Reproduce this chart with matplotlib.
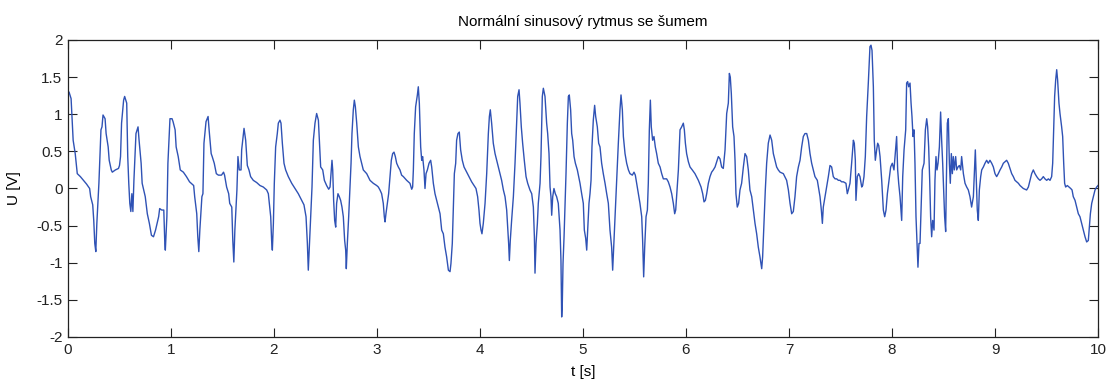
import numpy as np
import matplotlib
matplotlib.use("Agg")
import matplotlib.pyplot as plt

# ===================== DATA (t [s], U [V]) =====================
beats_0_2 = [
    (0.00, 1.28), (0.01, 1.30), (0.03, 1.21), (0.04, 0.92), (0.05, 0.65), (0.07, 0.47),
    (0.08, 0.34), (0.09, 0.20), (0.12, 0.16), (0.15, 0.11), (0.18, 0.06), (0.21, 0.00),
    (0.22, -0.11), (0.24, -0.22), (0.25, -0.43), (0.26, -0.74), (0.27, -0.85), (0.28, -0.47),
    (0.29, -0.20), (0.30, 0.07), (0.32, 0.79), (0.33, 0.83), (0.34, 0.99), (0.36, 0.94),
    (0.37, 0.74), (0.39, 0.56), (0.40, 0.38), (0.42, 0.25), (0.43, 0.22), (0.46, 0.25),
    (0.49, 0.27), (0.50, 0.31), (0.51, 0.43), (0.52, 0.88), (0.54, 1.19), (0.55, 1.24),
    (0.57, 1.15), (0.58, 0.43), (0.59, 0.07), (0.60, -0.20), (0.61, -0.31), (0.62, -0.07),
    (0.63, -0.31), (0.64, 0.11), (0.66, 0.74), (0.68, 0.83), (0.69, 0.65), (0.71, 0.34),
    (0.72, 0.07), (0.75, -0.11), (0.77, -0.34), (0.79, -0.47), (0.81, -0.63), (0.83, -0.65),
    (0.85, -0.56), (0.88, -0.38), (0.89, -0.27), (0.91, -0.29), (0.93, -0.29), (0.94, -0.74),
    (0.945, -0.83), (0.96, -0.38), (0.97, 0.34), (0.99, 0.94), (1.01, 0.94), (1.02, 0.90),
    (1.04, 0.79), (1.05, 0.56), (1.07, 0.43), (1.09, 0.25), (1.12, 0.22), (1.15, 0.16),
    (1.18, 0.09), (1.22, 0.04), (1.23, -0.11), (1.25, -0.34), (1.26, -0.65), (1.27, -0.85),
    (1.28, -0.56), (1.30, -0.11), (1.31, -0.07), (1.32, 0.61), (1.34, 0.90), (1.36, 0.97),
    (1.37, 0.79), (1.39, 0.47), (1.40, 0.43), (1.42, 0.34), (1.44, 0.20), (1.46, 0.18),
    (1.49, 0.18), (1.51, 0.22), (1.52, 0.18), (1.54, 0.02), (1.56, -0.07), (1.57, -0.20),
    (1.59, -0.25), (1.60, -0.70), (1.61, -0.99), (1.62, -0.56), (1.64, -0.02), (1.65, 0.43),
]

beats_2_3 = [
    (1.663, 0.25), (1.68, 0.25), (1.686, 0.52), (1.696, 0.65), (1.709, 0.81), (1.725, 0.65),
    (1.741, 0.31), (1.757, 0.25), (1.773, 0.16), (1.799, 0.11), (1.832, 0.08), (1.864, 0.04),
    (1.896, 0.02), (1.929, -0.02), (1.945, -0.07), (1.955, -0.20), (1.968, -0.38), (1.977, -0.70),
    (1.984, -0.83), (1.994, -0.47), (2.003, 0.07), (2.016, 0.56), (2.032, 0.74), (2.042, 0.88),
    (2.058, 0.92), (2.068, 0.88), (2.081, 0.61), (2.097, 0.34), (2.113, 0.25), (2.139, 0.16),
    (2.172, 0.07), (2.204, 0.00), (2.236, -0.07), (2.269, -0.16), (2.291, -0.22), (2.311, -0.38),
    (2.324, -0.74), (2.333, -1.10), (2.343, -0.79), (2.356, -0.38), (2.369, 0.02), (2.382, 0.65),
    (2.398, 0.88), (2.414, 1.01), (2.431, 0.92), (2.44, 0.65), (2.453, 0.29), (2.473, 0.25),
    (2.489, 0.11), (2.511, 0.04), (2.531, -0.01), (2.544, 0.02), (2.553, 0.20), (2.563, 0.38),
    (2.57, 0.25), (2.579, -0.16), (2.589, -0.43), (2.599, -0.52), (2.608, -0.20), (2.621, -0.07),
    (2.634, -0.11), (2.647, -0.16), (2.66, -0.25), (2.673, -0.38), (2.686, -0.70), (2.696, -0.83),
    (2.702, -1.08), (2.712, -0.74), (2.725, -0.38), (2.738, 0.02), (2.748, 0.34), (2.757, 0.74),
    (2.77, 1.06), (2.78, 1.19), (2.79, 1.10), (2.803, 0.88), (2.819, 0.56), (2.835, 0.43),
    (2.851, 0.34), (2.867, 0.25), (2.9, 0.20), (2.932, 0.11), (2.964, 0.07), (2.997, 0.04),
    (3.013, 0.02), (3.029, -0.02), (3.045, -0.07), (3.061, -0.20), (3.071, -0.38), (3.078, -0.45),
    (3.087, -0.34), (3.1, -0.20), (3.113, -0.07), (3.126, 0.16), (3.139, 0.38), (3.152, 0.47),
    (3.165, 0.49), (3.178, 0.43), (3.191, 0.34), (3.207, 0.29), (3.223, 0.25), (3.239, 0.18),
    (3.256, 0.16), (3.288, 0.11), (3.32, 0.07),
]

beats_3_5 = [
    (3.337, -0.01), (3.346, 0.02), (3.353, 0.25), (3.362, 0.74), (3.375, 1.10), (3.392, 1.26),
    (3.401, 1.37), (3.411, 1.15), (3.424, 0.56), (3.434, 0.38), (3.443, 0.43), (3.456, 0.25),
    (3.466, 0.00), (3.476, 0.20), (3.489, 0.25), (3.505, 0.34), (3.521, 0.38), (3.531, 0.29),
    (3.547, 0.07), (3.563, -0.07), (3.579, -0.16), (3.595, -0.25), (3.612, -0.34), (3.628, -0.56),
    (3.644, -0.61), (3.66, -0.79), (3.676, -0.92), (3.693, -1.10), (3.709, -1.12), (3.718, -1.01),
    (3.731, -0.74), (3.741, -0.29), (3.751, 0.20), (3.764, 0.34), (3.773, 0.65), (3.786, 0.74),
    (3.799, 0.76), (3.812, 0.52), (3.828, 0.38), (3.845, 0.29), (3.871, 0.22), (3.893, 0.16),
    (3.919, 0.09), (3.942, 0.04), (3.961, 0.00), (3.977, -0.11), (3.99, -0.29), (4.0, -0.47),
    (4.01, -0.56), (4.019, -0.61), (4.032, -0.47), (4.049, -0.20), (4.065, 0.20), (4.081, 0.74),
    (4.091, 0.97), (4.1, 1.06), (4.113, 0.88), (4.129, 0.61), (4.146, 0.47), (4.162, 0.38),
    (4.178, 0.29), (4.194, 0.20), (4.21, 0.11), (4.227, -0.02), (4.243, -0.11), (4.259, -0.29),
    (4.269, -0.52), (4.278, -0.74), (4.285, -0.97), (4.294, -0.70), (4.307, -0.43), (4.324, -0.11),
    (4.34, 0.34), (4.356, 0.88), (4.366, 1.24), (4.379, 1.33), (4.388, 1.15), (4.401, 0.83),
    (4.414, 0.61), (4.43, 0.38), (4.447, 0.16), (4.463, 0.07), (4.485, -0.02), (4.502, -0.07),
    (4.518, -0.25), (4.528, -0.65), (4.534, -1.14), (4.544, -0.74), (4.557, -0.47), (4.566, -0.20),
    (4.583, 0.07), (4.592, 0.43), (4.605, 1.24), (4.615, 1.35), (4.631, 1.24), (4.647, 0.88),
    (4.657, 0.74), (4.67, 0.47), (4.68, 0.02), (4.689, -0.11), (4.696, -0.36), (4.706, -0.11),
    (4.718, 0.00), (4.731, -0.07), (4.744, -0.11), (4.76, -0.20), (4.777, -0.56), (4.786, -0.97),
    (4.793, -1.73), (4.799, -1.55), (4.806, -1.01), (4.816, -0.65), (4.828, -0.11), (4.835, 0.20),
    (4.848, 0.88), (4.858, 1.24), (4.867, 1.26), (4.88, 1.06), (4.89, 0.74), (4.9, 0.65),
    (4.913, 0.43), (4.926, 0.34), (4.945, 0.25), (4.971, 0.07),
]

beats_5_6 = [
    (4.987, -0.07), (5.003, -0.20), (5.013, -0.56), (5.026, -0.67), (5.036, -0.83), (5.045, -0.56),
    (5.058, -0.20), (5.068, -0.07), (5.078, 0.11), (5.087, 0.56), (5.1, 0.92), (5.113, 1.12),
    (5.123, 0.97), (5.139, 0.83), (5.152, 0.61), (5.165, 0.56), (5.181, 0.34), (5.197, 0.20),
    (5.214, 0.07), (5.23, -0.07), (5.246, -0.20), (5.262, -0.56), (5.278, -0.79), (5.288, -1.10),
    (5.298, -0.79), (5.311, -0.38), (5.327, 0.11), (5.343, 0.61), (5.359, 1.06), (5.369, 1.26),
    (5.382, 1.06), (5.392, 0.70), (5.408, 0.47), (5.424, 0.34), (5.441, 0.25), (5.456, 0.20),
    (5.479, 0.18), (5.495, 0.22), (5.508, 0.18), (5.521, 0.07), (5.537, -0.07), (5.553, -0.20),
    (5.57, -0.38), (5.579, -0.70), (5.589, -1.19), (5.599, -0.79), (5.612, -0.38), (5.625, -0.29),
    (5.634, 0.07), (5.644, 0.79), (5.654, 1.19), (5.663, 0.83), (5.676, 0.65), (5.689, 0.70),
    (5.702, 0.56), (5.715, 0.47), (5.731, 0.34), (5.748, 0.29), (5.764, 0.20), (5.78, 0.13),
    (5.812, 0.13), (5.828, 0.09), (5.845, 0.02), (5.861, -0.07), (5.877, -0.20), (5.89, -0.34),
    (5.9, -0.29), (5.909, -0.11), (5.926, 0.25), (5.942, 0.79), (5.958, 0.83), (5.974, 0.88),
    (5.984, 0.79), (5.994, 0.61), (6.006, 0.47), (6.023, 0.36), (6.039, 0.29), (6.061, 0.25),
    (6.087, 0.20), (6.12, 0.11), (6.146, 0.02), (6.162, -0.07), (6.175, -0.18), (6.188, -0.16),
    (6.201, -0.07), (6.217, 0.07), (6.233, 0.16), (6.249, 0.22), (6.265, 0.25), (6.282, 0.29),
    (6.298, 0.36), (6.314, 0.43), (6.33, 0.40), (6.346, 0.29), (6.362, 0.27), (6.379, 0.52),
    (6.395, 1.01), (6.411, 1.15), (6.421, 1.55), (6.43, 1.50), (6.44, 1.28), (6.453, 0.83),
    (6.466, 0.70), (6.476, 0.38), (6.485, -0.07), (6.498, -0.25), (6.511, -0.20), (6.524, -0.02),
    (6.54, 0.07), (6.557, 0.29), (6.573, 0.47), (6.589, 0.43), (6.605, 0.25), (6.621, -0.02),
]

beats_6_8 = [
    (6.638, -0.11), (6.654, -0.29), (6.67, -0.47), (6.686, -0.61), (6.702, -0.79), (6.718, -0.92),
    (6.735, -1.08), (6.744, -0.92), (6.757, -0.47), (6.77, -0.02), (6.783, 0.34), (6.799, 0.61),
    (6.816, 0.72), (6.832, 0.65), (6.848, 0.47), (6.864, 0.38), (6.88, 0.29), (6.896, 0.25),
    (6.913, 0.22), (6.945, 0.20), (6.977, 0.11), (6.994, -0.02), (7.01, -0.20), (7.026, -0.34),
    (7.042, -0.31), (7.058, -0.11), (7.074, 0.16), (7.091, 0.29), (7.107, 0.38), (7.123, 0.56),
    (7.139, 0.70), (7.155, 0.74), (7.172, 0.74), (7.188, 0.65), (7.204, 0.47), (7.22, 0.34),
    (7.236, 0.25), (7.252, 0.16), (7.275, 0.11), (7.291, -0.02), (7.301, -0.11), (7.314, -0.29),
    (7.324, -0.47), (7.333, -0.25), (7.35, -0.11), (7.366, 0.02), (7.382, 0.16), (7.398, 0.31),
    (7.414, 0.29), (7.43, 0.16), (7.447, 0.13), (7.463, 0.13), (7.479, 0.11), (7.495, 0.11),
    (7.511, 0.09), (7.528, 0.09), (7.553, 0.07), (7.566, -0.07), (7.576, -0.02), (7.592, 0.07),
    (7.608, 0.34), (7.625, 0.65), (7.634, 0.61), (7.644, 0.38), (7.65, -0.16), (7.663, 0.16),
    (7.676, 0.20), (7.689, 0.16), (7.706, 0.02), (7.715, 0.04), (7.728, 0.16), (7.741, 0.43),
    (7.754, 0.97), (7.77, 1.42), (7.786, 1.91), (7.796, 1.93), (7.806, 1.86), (7.819, 1.37),
    (7.828, 0.65), (7.838, 0.38), (7.851, 0.52), (7.861, 0.61), (7.871, 0.58), (7.884, 0.43),
    (7.9, 0.11), (7.916, -0.29), (7.929, -0.38), (7.942, -0.29), (7.955, -0.07), (7.971, 0.11),
    (7.987, 0.29), (8.003, 0.34), (8.019, 0.25), (8.029, 0.43), (8.045, 0.70), (8.055, 0.25),
    (8.065, 0.07), (8.078, -0.11), (8.094, -0.43), (8.104, 0.16), (8.117, 0.52), (8.133, 0.79),
    (8.142, 1.42), (8.152, 1.44), (8.162, 1.37), (8.175, 1.42), (8.185, 1.15), (8.194, 0.97),
    (8.204, 0.70), (8.214, 0.79), (8.223, 0.34), (8.233, -0.38), (8.243, -0.74), (8.252, -1.06),
    (8.262, -0.74),
]

beats_8_10 = [
    (8.272, -0.74), (8.282, -0.29), (8.294, 0.25), (8.311, 0.34), (8.324, 0.79), (8.337, 0.94),
    (8.346, 0.83), (8.356, 0.56), (8.366, 0.11), (8.375, -0.38), (8.385, -0.65), (8.395, -0.43),
    (8.408, -0.56), (8.417, 0.11), (8.427, 0.43), (8.437, 0.25), (8.447, 0.34), (8.46, 0.56),
    (8.472, 1.03), (8.482, 0.65), (8.492, 0.34), (8.502, -0.02), (8.511, -0.38), (8.521, -0.58),
    (8.528, 0.11), (8.537, 0.88), (8.547, 0.94), (8.557, 0.34), (8.566, 0.07), (8.576, 0.47),
    (8.586, 0.20), (8.595, 0.43), (8.605, 0.25), (8.618, 0.43), (8.628, 0.25), (8.641, 0.29),
    (8.654, 0.31), (8.667, 0.25), (8.676, 0.43), (8.693, 0.20), (8.709, 0.07), (8.725, 0.02),
    (8.741, -0.02), (8.757, -0.11), (8.773, -0.25), (8.79, -0.11), (8.799, 0.20), (8.809, 0.52),
    (8.819, 0.11), (8.828, -0.29), (8.838, -0.43), (8.848, -0.02), (8.861, 0.16), (8.871, 0.25),
    (8.887, 0.29), (8.903, 0.34), (8.919, 0.38), (8.935, 0.34), (8.951, 0.38), (8.968, 0.34),
    (8.984, 0.29), (9.0, 0.20), (9.016, 0.16), (9.032, 0.20), (9.049, 0.25), (9.065, 0.29),
    (9.081, 0.34), (9.097, 0.36), (9.113, 0.38), (9.129, 0.34), (9.146, 0.27), (9.162, 0.20),
    (9.178, 0.16), (9.194, 0.11), (9.21, 0.09), (9.227, 0.07), (9.243, 0.04), (9.259, 0.02),
    (9.275, 0.00), (9.291, -0.01), (9.307, -0.02), (9.324, 0.02), (9.34, 0.11), (9.356, 0.20),
    (9.372, 0.25), (9.388, 0.20), (9.405, 0.16), (9.421, 0.13), (9.437, 0.11), (9.453, 0.13),
    (9.469, 0.16), (9.485, 0.13), (9.502, 0.11), (9.518, 0.13), (9.534, 0.11), (9.55, 0.16),
    (9.56, 0.34), (9.57, 0.79), (9.579, 1.24), (9.589, 1.46), (9.599, 1.60), (9.608, 1.46),
    (9.621, 1.15), (9.631, 1.01), (9.647, 0.83), (9.657, 0.70), (9.667, 0.34), (9.676, 0.07),
    (9.686, 0.02), (9.702, 0.04), (9.718, 0.02), (9.735, 0.00), (9.748, -0.02), (9.76, -0.11),
    (9.777, -0.16), (9.793, -0.25), (9.809, -0.34), (9.825, -0.38), (9.841, -0.47), (9.858, -0.56),
    (9.874, -0.65), (9.89, -0.72), (9.906, -0.70), (9.916, -0.52), (9.926, -0.34), (9.939, -0.20),
    (9.955, -0.11), (9.971, -0.02), (9.987, 0.02), (10.0, 0.04),
]

x_ticks = list(range(0, 11))
y_ticks = [-2, -1.5, -1, -0.5, 0, 0.5, 1, 1.5, 2]
y_tick_labels = ["-2", "-1.5", "-1", "-0.5", "0", "0.5", "1", "1.5", "2"]

# ===================== PLOT =====================
plt.rcParams["font.family"] = ["Liberation Sans", "DejaVu Sans"]

data = np.array(beats_0_2 + beats_2_3 + beats_3_5 + beats_5_6 + beats_6_8 + beats_8_10)
t, u = data[:, 0], data[:, 1]

fig = plt.figure(figsize=(11.09, 3.85), dpi=100)
ax = fig.add_axes([68 / 1109, 48 / 385, 1030 / 1109, 297 / 385])

ax.plot(t, u, color="#2f52b5", linewidth=1.0)

ax.set_xlim(0, 10)
ax.set_ylim(-2, 2)
ax.set_xticks(x_ticks)
ax.set_yticks(y_ticks)
ax.set_yticklabels(y_tick_labels)

ax.tick_params(direction="in", length=6.5, width=0.8, top=True, right=True,
               labelsize=11, pad=4, colors="#222222")
for s in ax.spines.values():
    s.set_linewidth(0.9)
    s.set_color("#222222")

ax.set_title("Normální sinusový rytmus se šumem", fontsize=11, pad=10)
ax.set_xlabel("t [s]", fontsize=11, labelpad=6)
ax.set_ylabel("U [V]", fontsize=11, labelpad=11)

fig.savefig("out.png", dpi=100)
print("saved out.png")
